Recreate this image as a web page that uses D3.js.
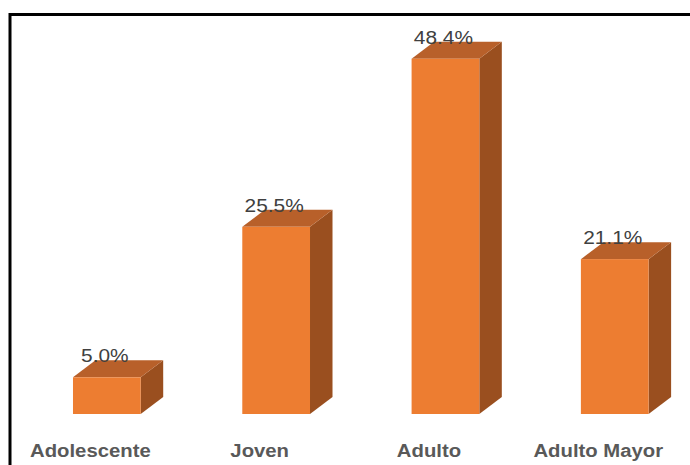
<!DOCTYPE html>
<html>
<head>
<meta charset="utf-8">
<script src="https://cdn.jsdelivr.net/npm/d3@7"></script>
<style>
  html, body { margin: 0; padding: 0; background: #fff; }
  svg { display: block; }
</style>
</head>
<body>
<svg id="chart" width="690" height="465"></svg>
<script>
// Distribution by age group (percent)
const categories = ["Adolescente", "Joven", "Adulto", "Adulto Mayor"];
const values = [5.0, 25.5, 48.4, 21.1];
const valueLabels = ["5.0%", "25.5%", "48.4%", "21.1%"];

const W = 690, H = 465;
const svg = d3.select("#chart");

// frame around the chart area
svg.append("rect")
  .attr("x", 10).attr("y", 14.5)
  .attr("width", W + 20).attr("height", H + 20)
  .attr("fill", "none")
  .attr("stroke", "#000")
  .attr("stroke-width", 3);

const x = d3.scaleBand()
  .domain(categories)
  .range([22.2, 699.4])
  .paddingInner(0.6)
  .paddingOuter(0.3);

const y = d3.scaleLinear().domain([0, 50]).range([414, 47]);

// 3-D extrusion offsets
const dx = 22.5, dy = 17;

const colFront = "#ED7D31", colTop = "#B8602A", colSide = "#9A4F1F";

const data = categories.map((c, i) => ({ c, v: values[i], label: valueLabels[i] }));

const g = svg.append("g");
const bars = g.selectAll("g.bar").data(data).join("g").attr("class", "bar");

bars.each(function(d) {
  const sel = d3.select(this);
  const x0 = x(d.c), x1 = x0 + x.bandwidth();
  const yt = y(d.v), yb = y(0);
  // side face
  sel.append("path")
    .attr("d", `M${x1},${yt}L${x1 + dx},${yt - dy}L${x1 + dx},${yb - dy}L${x1},${yb}Z`)
    .attr("fill", colSide);
  // top face
  sel.append("path")
    .attr("d", `M${x0},${yt}L${x0 + dx},${yt - dy}L${x1 + dx},${yt - dy}L${x1},${yt}Z`)
    .attr("fill", colTop);
  // front face
  sel.append("rect")
    .attr("x", x0).attr("y", yt)
    .attr("width", x.bandwidth()).attr("height", yb - yt)
    .attr("fill", colFront);
});

// value labels (wide lettering)
g.selectAll("text.val").data(data).join("text")
  .attr("class", "val")
  .attr("transform", d => `translate(${x(d.c) + x.bandwidth() / 2 - 2},${y(d.v) - 15}) scale(1.16,1)`)
  .attr("text-anchor", "middle")
  .attr("font-family", "'Liberation Sans', Arial, sans-serif")
  .attr("font-size", 18)
  .attr("fill", "#404040")
  .text(d => d.label);

// category labels
g.selectAll("text.cat").data(data).join("text")
  .attr("class", "cat")
  .attr("transform", d => `translate(${x(d.c) + x.bandwidth() / 2 - 16.5},${456.5}) scale(1.16,1)`)
  .attr("text-anchor", "middle")
  .attr("font-family", "'Liberation Sans', Arial, sans-serif")
  .attr("font-size", 17.5)
  .attr("font-weight", "bold")
  .attr("fill", "#595959")
  .text(d => d.c);
</script>
</body>
</html>
